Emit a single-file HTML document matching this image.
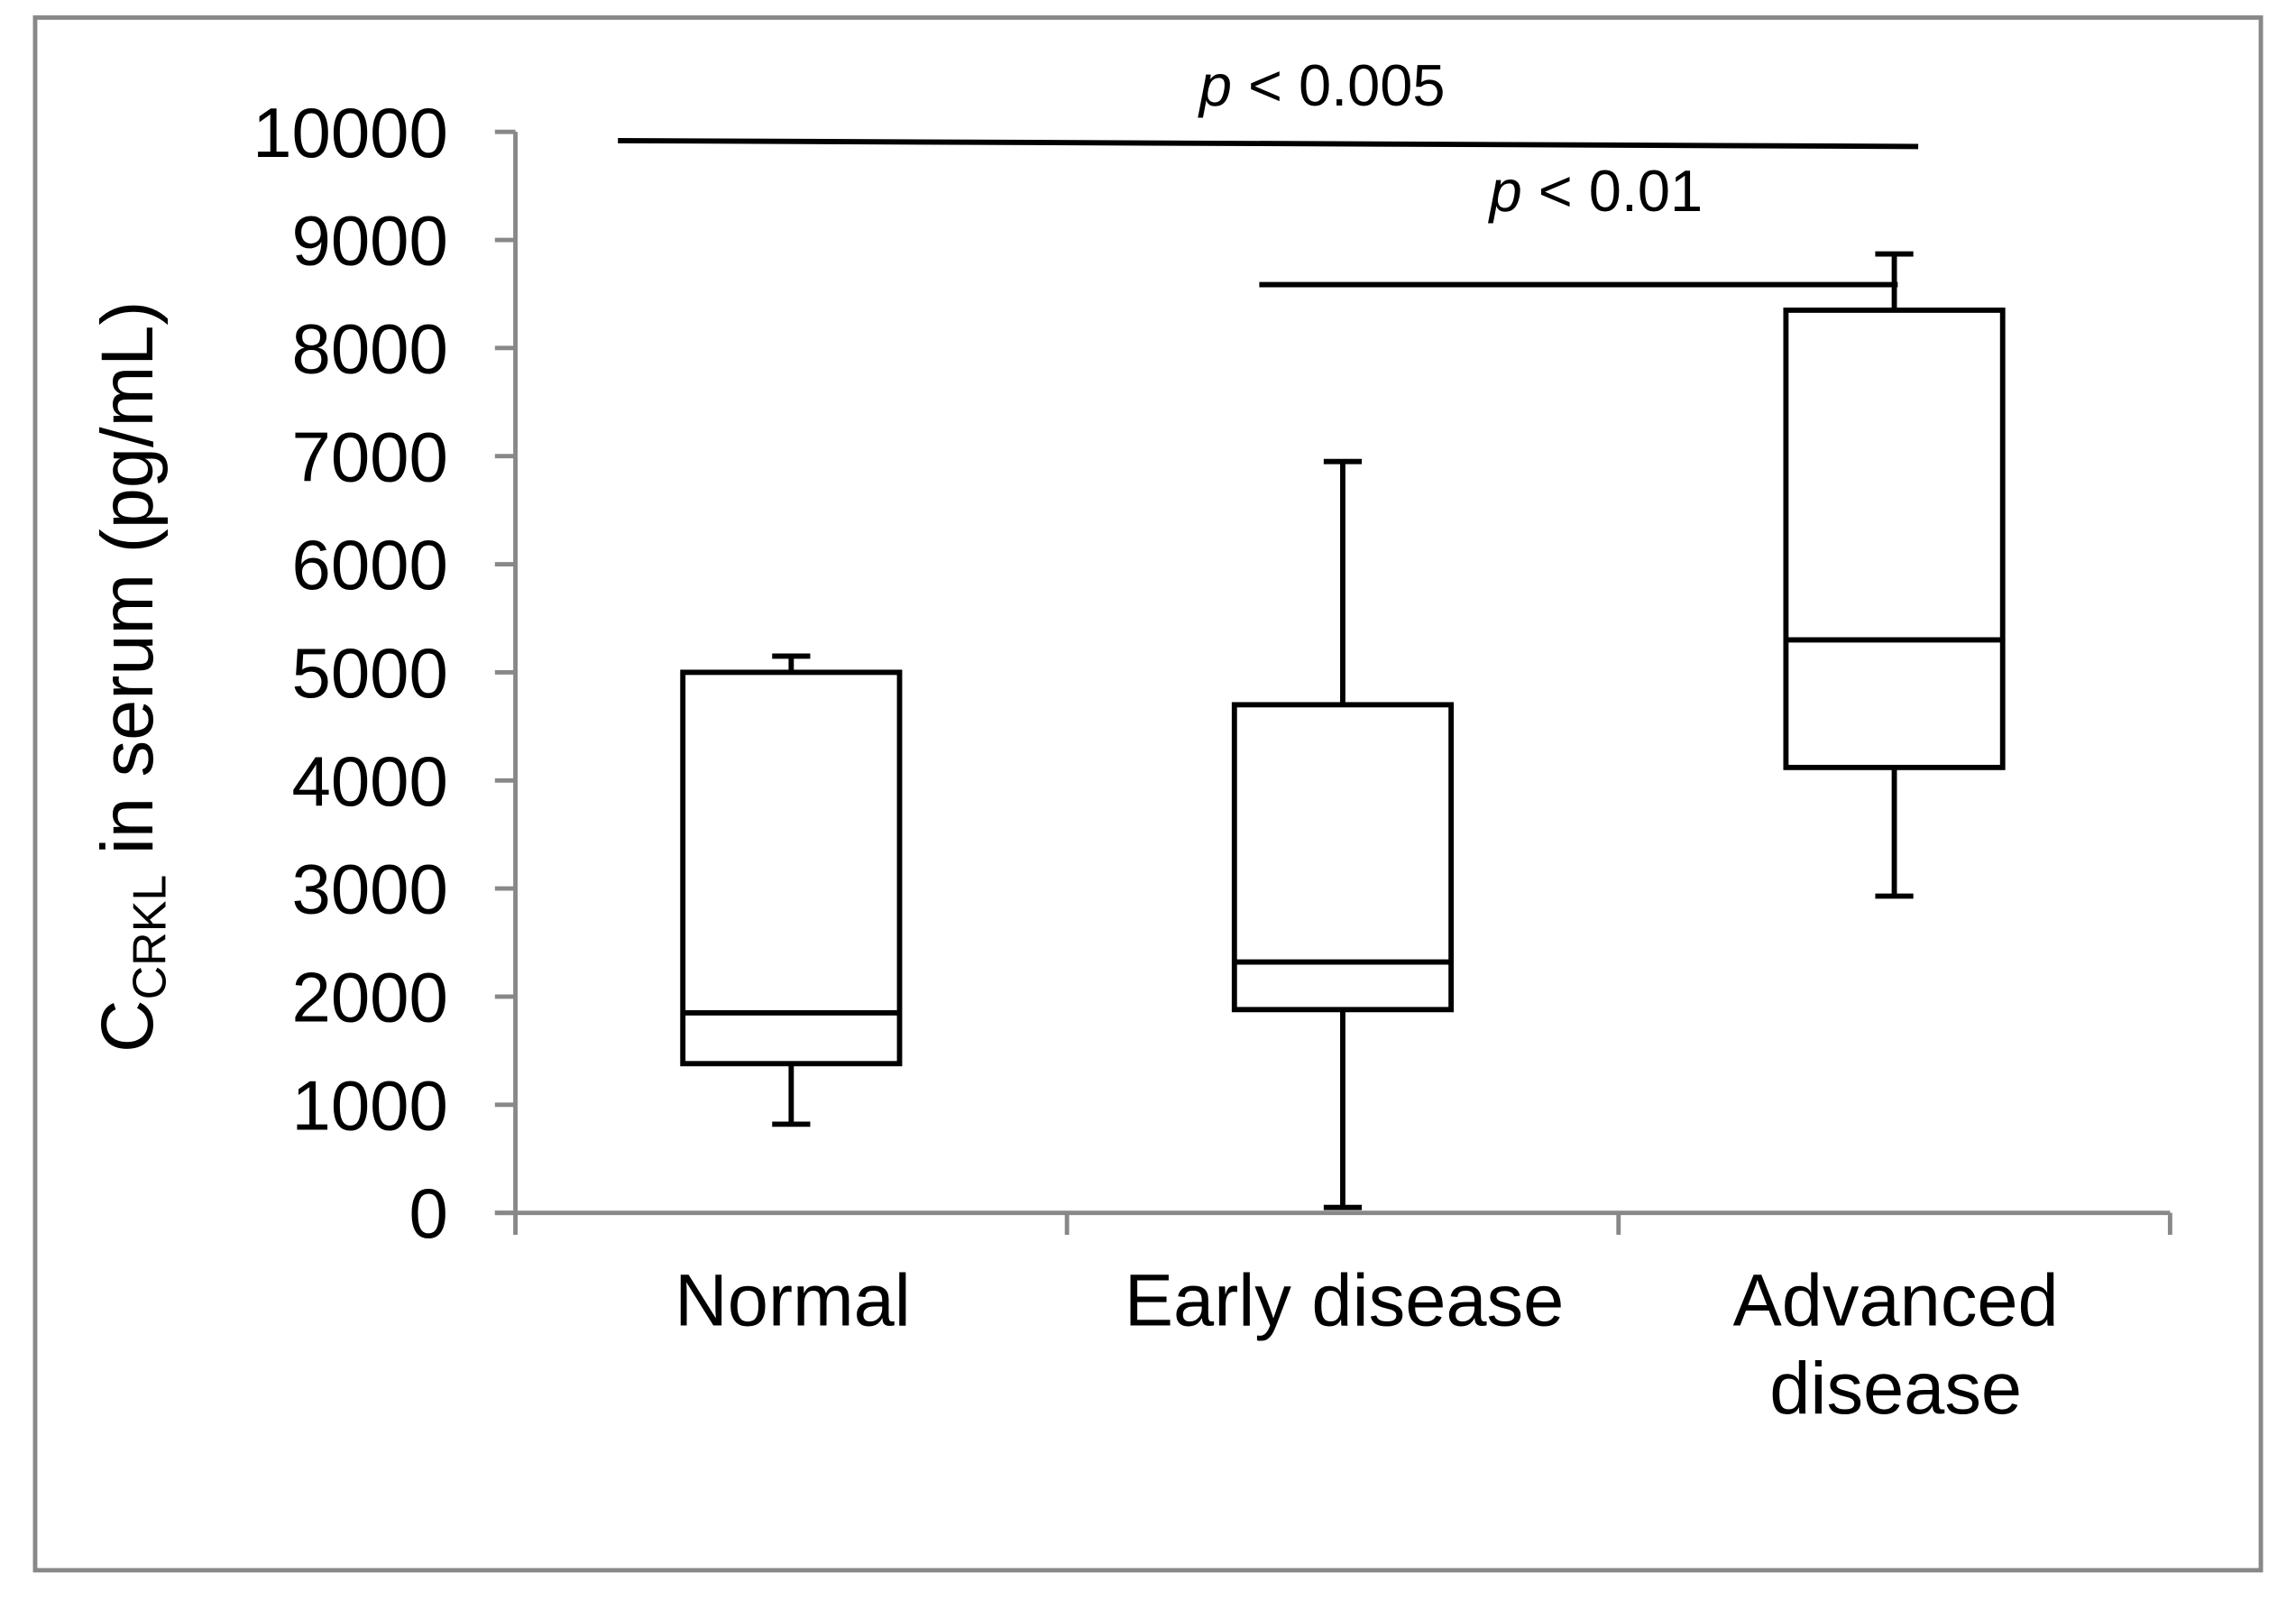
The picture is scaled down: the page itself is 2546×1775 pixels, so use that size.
<!DOCTYPE html>
<html><head><meta charset="utf-8"><style>
html,body{margin:0;padding:0;background:#fff;}
svg{display:block;}
text{font-family:"Liberation Sans",Arial,sans-serif;fill:#000;}
</style></head><body>
<svg id="chart" width="2546" height="1775" viewBox="0 0 1568 1093" preserveAspectRatio="none" xmlns="http://www.w3.org/2000/svg">
<rect x="24" y="12" width="1520" height="1060" fill="#fff" stroke="#888" stroke-width="3"/>
<g id="axes"></g>
<g id="boxes"></g>
<g id="sig"></g>
<text transform="translate(104,462) rotate(-90)" text-anchor="middle" font-size="50">C<tspan font-size="32" dy="9">CRKL</tspan><tspan dy="-9"> in serum (pg/mL)</tspan></text>
</svg>
<script>
const categories = ["Normal", "Early disease", "Advanced disease"];
const whiskerMin = [820, 50, 2930];
const q1 = [1380, 1880, 4120];
const median = [1850, 2320, 5300];
const q3 = [5000, 4700, 8350];
const whiskerMax = [5150, 6950, 8870];
const yTicks = [0,1000,2000,3000,4000,5000,6000,7000,8000,9000,10000];
const sigLabels = ["p < 0.005", "p < 0.01"];
const sigLevels = [9900, 8600];

const NS = "http://www.w3.org/2000/svg";
const x0 = 352, x1 = 1482, yTop = 90, yBot = 828, yMax = 10000;
function yS(v){ return yBot - (v / yMax) * (yBot - yTop); }
const band = (x1 - x0) / categories.length;
function xC(i){ return x0 + band * (i + 0.5); }
function mk(tag, attrs, parent){
  const e = document.createElementNS(NS, tag);
  for (const k in attrs) e.setAttribute(k, attrs[k]);
  parent.appendChild(e); return e;
}
const axes = document.getElementById('axes');
const yAxis = mk('line', {x1:x0, y1:yTop, x2:x0, y2:yBot, stroke:'#888', 'stroke-width':3}, axes);


const xAxis = mk('line', {x1:x0-14, y1:yBot, x2:x1, y2:yBot, stroke:'#888', 'stroke-width':3}, axes);


yTicks.forEach(v => {
  const t = mk('line', {x1:x0-14, y1:yS(v), x2:x0, y2:yS(v), stroke:'#888', 'stroke-width':3}, axes);
  
  
  const l = mk('text', {x:306, y:yS(v)+17, 'text-anchor':'end', 'font-size':48}, axes);
  l.textContent = v;
  
  
});
for (let i = 0; i <= categories.length; i++) {
  const xx = x0 + band * i;
  const t = mk('line', {x1:xx, y1:yBot, x2:xx, y2:yBot+15, stroke:'#888', 'stroke-width':3}, axes);
  
  
}
categories.forEach((c, i) => {
  const words = c === "Advanced disease" ? ["Advanced", "disease"] : [c];
  words.forEach((w, j) => {
    const l = mk('text', {x:xC(i)+1, y:905 + j*60, 'text-anchor':'middle', 'font-size':50}, axes);
    l.textContent = w;
    
    
  });
});
const boxes = document.getElementById('boxes');
const bw = 148, cap = 13;
categories.forEach((c, i) => {
  const cx = xC(i);
  const g = mk('g', {stroke:'#000', 'stroke-width':3.6, fill:'none'}, boxes);
  
  
  mk('line', {x1:cx, y1:yS(q3[i]), x2:cx, y2:yS(whiskerMax[i])}, g);
  mk('line', {x1:cx-cap, y1:yS(whiskerMax[i]), x2:cx+cap, y2:yS(whiskerMax[i])}, g);
  mk('line', {x1:cx, y1:yS(q1[i]), x2:cx, y2:yS(whiskerMin[i])}, g);
  mk('line', {x1:cx-cap, y1:yS(whiskerMin[i]), x2:cx+cap, y2:yS(whiskerMin[i])}, g);
  mk('rect', {x:cx-bw/2, y:yS(q3[i]), width:bw, height:yS(q1[i])-yS(q3[i]), fill:'#fff'}, g);
  mk('line', {x1:cx-bw/2, y1:yS(median[i]), x2:cx+bw/2, y2:yS(median[i])}, g);
});
const sig = document.getElementById('sig');
const l1 = mk('line', {x1:422, y1:96, x2:1310, y2:100, stroke:'#000', 'stroke-width':3.6}, sig);


const l2 = mk('line', {x1:860, y1:yS(sigLevels[1])+1, x2:1296, y2:yS(sigLevels[1])+1, stroke:'#000', 'stroke-width':3.6}, sig);


[[903, 72], [1090, 144]].forEach((p, k) => {
  const t = mk('text', {x:p[0], y:p[1], 'text-anchor':'middle', 'font-size':40}, sig);
  
  
  const parts = sigLabels[k].split(' ');
  const it = mk('tspan', {'font-style':'italic'}, t); it.textContent = parts[0];
  const rest = mk('tspan', {}, t); rest.textContent = ' ' + parts.slice(1).join(' ');
});
</script>
</body></html>
